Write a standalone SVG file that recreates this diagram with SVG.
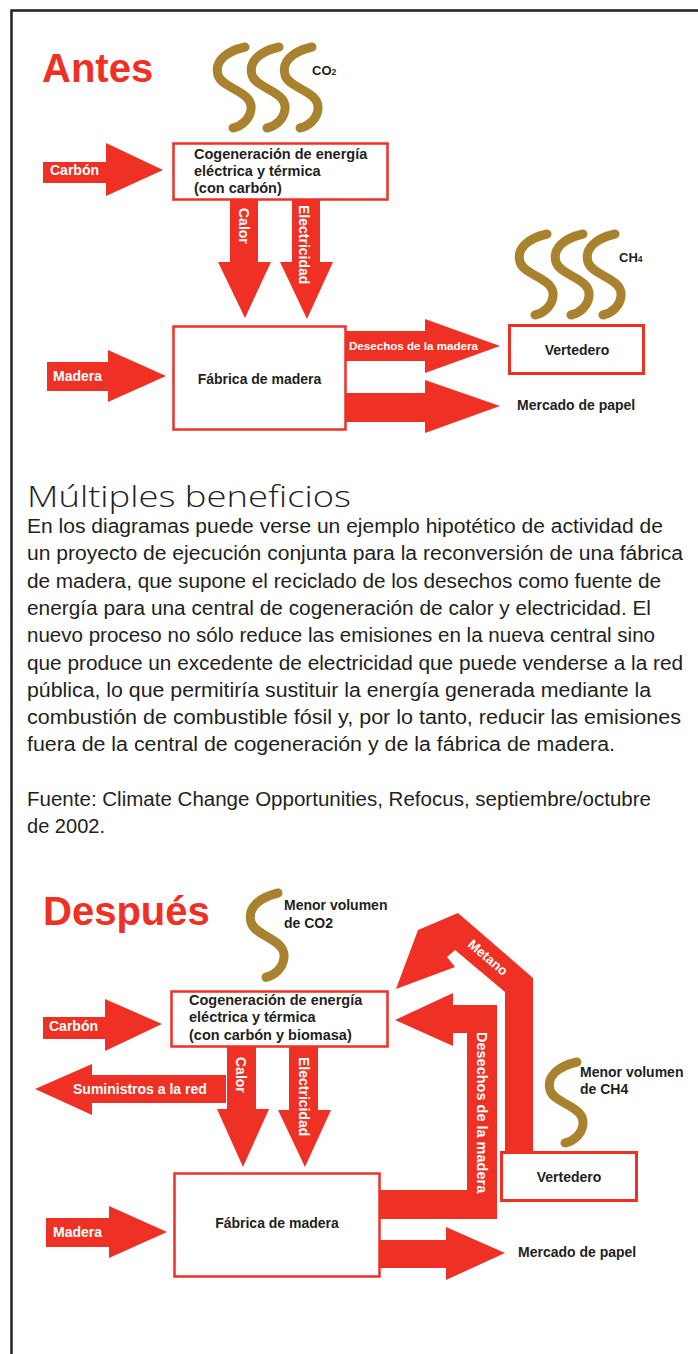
<svg xmlns="http://www.w3.org/2000/svg" width="698" height="1354" viewBox="0 0 698 1354">
<style>
.bg{fill:#fff}
.frame{fill:none;stroke:#231F20;stroke-width:2.5}
.box{fill:#fff;stroke:#EE3124;stroke-width:2.5}
.arr{fill:#EE3124}
.smoke{fill:none;stroke:#A8822F;stroke-width:9;stroke-linecap:round}
.t{font-family:"Liberation Sans",Arial,sans-serif;font-weight:bold;fill:#231F20;font-size:14px}
.w{font-family:"Liberation Sans",Arial,sans-serif;font-weight:bold;fill:#fff;font-size:14px}
.big{font-family:"Liberation Sans",Arial,sans-serif;font-weight:bold;fill:#EE3124;font-size:40px}
.h{font-family:"Open Sans",Lato,"Liberation Sans",sans-serif;font-weight:300;fill:#231F20;font-size:29px}
.body{font-family:"Liberation Sans",Arial,sans-serif;fill:#231F20;font-size:20px}
</style>
<defs>
<path id="smoke" d="M0,0 C-18,4 -31,14 -27,28 C-23,42 8,44 6,62 C5,72 -3,79 -12,81"/>
</defs>
<rect class="bg" x="0" y="0" width="698" height="1354"/>
<rect class="frame" x="11.5" y="10.5" width="700" height="1360"/>

<!-- ANTES -->
<text class="big" x="42" y="82">Antes</text>
<g id="smoke-co2-top">
<use href="#smoke" class="smoke" transform="translate(245,47)"/>
<use href="#smoke" class="smoke" transform="translate(279,47)"/>
<use href="#smoke" class="smoke" transform="translate(312,47)"/>
<text class="t" x="312" y="75" style="font-size:13px">CO<tspan style="font-size:8.5px">2</tspan></text>
</g>
<g id="smoke-ch4-top">
<use href="#smoke" class="smoke" transform="translate(547,234)"/>
<use href="#smoke" class="smoke" transform="translate(583,234)"/>
<use href="#smoke" class="smoke" transform="translate(615,234)"/>
<text class="t" x="619" y="262" style="font-size:13px">CH<tspan style="font-size:8.5px">4</tspan></text>
</g>

<g id="connectors-top">
<polygon class="arr" points="43,162 106,162 106,143 163,170 106,196 106,183 43,183"/>
<text class="w" x="50" y="175">Carbón</text>
<polygon class="arr" points="230,200 258,200 258,262 271,262 245,318 218,262 230,262"/>
<text class="w" transform="translate(239,208) rotate(90)">Calor</text>
<polygon class="arr" points="292,200 320,200 320,262 333,262 307,319 280,262 292,262"/>
<text class="w" transform="translate(299,205) rotate(90)">Electricidad</text>
<polygon class="arr" points="47,362 108,362 108,350 166,376 108,402 108,391 47,391"/>
<text class="w" x="53" y="381">Madera</text>
<polygon class="arr" points="346,331 425,331 425,319 500,346 425,373 425,361 346,361"/>
<text class="w" x="349" y="350" style="font-size:11.6px">Desechos de la madera</text>
<polygon class="arr" points="346,393 425,393 425,380 500,406 425,433 425,422 346,422"/>
</g>

<g id="cogen-top">
<rect class="box" x="173.5" y="143.5" width="214" height="56"/>
<text class="t" x="194" y="159" style="font-size:14.5px">Cogeneración de energía</text>
<text class="t" x="194" y="176" style="font-size:14.5px">eléctrica y térmica</text>
<text class="t" x="194" y="193" style="font-size:14.5px">(con carbón)</text>
</g>
<g id="fabrica-top">
<rect class="box" x="173.5" y="326.5" width="172" height="103"/>
<text class="t" x="259.5" y="384" text-anchor="middle">Fábrica de madera</text>
</g>
<g id="vertedero-top">
<rect class="box" x="509.5" y="325.5" width="134" height="48" style="stroke-width:3"/>
<text class="t" x="577" y="355" text-anchor="middle">Vertedero</text>
</g>
<g id="mercado-top">
<text class="t" x="517" y="410">Mercado de papel</text>
</g>

<!-- TEXT -->
<g id="texto">
<text class="h" x="27" y="507" textLength="324" lengthAdjust="spacingAndGlyphs">Múltiples beneficios</text>
<text class="body" x="27" y="533" textLength="636" lengthAdjust="spacingAndGlyphs">En los diagramas puede verse un ejemplo hipotético de actividad de</text>
<text class="body" x="27" y="560.3" textLength="656" lengthAdjust="spacingAndGlyphs">un proyecto de ejecución conjunta para la reconversión de una fábrica</text>
<text class="body" x="27" y="587.6" textLength="634" lengthAdjust="spacingAndGlyphs">de madera, que supone el reciclado de los desechos como fuente de</text>
<text class="body" x="27" y="614.9" textLength="624" lengthAdjust="spacingAndGlyphs">energía para una central de cogeneración de calor y electricidad. El</text>
<text class="body" x="27" y="642.2" textLength="628" lengthAdjust="spacingAndGlyphs">nuevo proceso no sólo reduce las emisiones en la nueva central sino</text>
<text class="body" x="27" y="669.5" textLength="656" lengthAdjust="spacingAndGlyphs">que produce un excedente de electricidad que puede venderse a la red</text>
<text class="body" x="27" y="696.8" textLength="624" lengthAdjust="spacingAndGlyphs">pública, lo que permitiría sustituir la energía generada mediante la</text>
<text class="body" x="27" y="724.1" textLength="654" lengthAdjust="spacingAndGlyphs">combustión de combustible fósil y, por lo tanto, reducir las emisiones</text>
<text class="body" x="27" y="751.4" textLength="588" lengthAdjust="spacingAndGlyphs">fuera de la central de cogeneración y de la fábrica de madera.</text>
<text class="body" x="27" y="806" textLength="624" lengthAdjust="spacingAndGlyphs">Fuente: Climate Change Opportunities, Refocus, septiembre/octubre</text>
<text class="body" x="27" y="833.3" textLength="78" lengthAdjust="spacingAndGlyphs">de 2002.</text>
</g>

<!-- DESPUES -->
<text class="big" x="43" y="925">Después</text>
<g id="smoke-co2-bottom">
<use href="#smoke" class="smoke" transform="translate(278,893) scale(1,1.04)"/>
<text class="t" x="284" y="910">Menor volumen</text>
<text class="t" x="284" y="928">de CO2</text>
</g>
<g id="smoke-ch4-bottom">
<use href="#smoke" class="smoke" transform="translate(577,1062)"/>
<text class="t" x="580" y="1077">Menor volumen</text>
<text class="t" x="580" y="1094">de CH4</text>
</g>

<g id="connectors-bottom">
<polygon class="arr" points="533,1152 533,978 458,913 418,930 396,989 455,967 447,957 455,950 505,992 505,1152"/>
<text class="w" transform="translate(485,961) rotate(40.6)" text-anchor="middle" style="font-size:13.5px">Metano</text>
<polygon class="arr" points="380,1190 467,1190 467,1033 453,1033 453,1046 395,1020 453,993 453,1005 497,1005 497,1219 380,1219"/>
<text class="w" transform="translate(477,1032) rotate(90)" style="font-size:14.5px">Desechos de la madera</text>
<polygon class="arr" points="43,1017 105,1017 105,999 162,1024 105,1051 105,1039 43,1039"/>
<text class="w" x="49" y="1031">Carbón</text>
<polygon class="arr" points="35,1089 92,1064 92,1075 226,1075 226,1103 92,1103 92,1115"/>
<text class="w" x="73" y="1094">Suministros a la red</text>
<polygon class="arr" points="227,1047 256,1047 256,1109 269,1109 243,1167 217,1109 227,1109"/>
<text class="w" transform="translate(236,1057) rotate(90)">Calor</text>
<polygon class="arr" points="289,1047 318,1047 318,1110 331,1110 305,1167 278,1110 289,1110"/>
<text class="w" transform="translate(298.5,1057) rotate(90)">Electricidad</text>
<polygon class="arr" points="46,1218 109,1218 109,1206 167,1232 109,1258 109,1247 46,1247"/>
<text class="w" x="53" y="1237">Madera</text>
<polygon class="arr" points="380,1240 446,1240 446,1227 505,1253 446,1280 446,1268 380,1268"/>
</g>

<g id="cogen-bottom">
<rect class="box" x="171.5" y="991.5" width="216" height="55"/>
<text class="t" x="189" y="1005" style="font-size:14.5px">Cogeneración de energía</text>
<text class="t" x="189" y="1022" style="font-size:14.5px">eléctrica y térmica</text>
<text class="t" x="189" y="1040" style="font-size:14.5px">(con carbón y biomasa)</text>
</g>
<g id="fabrica-bottom">
<rect class="box" x="174.5" y="1173.5" width="205" height="103"/>
<text class="t" x="277" y="1228" text-anchor="middle">Fábrica de madera</text>
</g>
<g id="vertedero-bottom">
<rect class="box" x="501.5" y="1152.5" width="135" height="48" style="stroke-width:3"/>
<text class="t" x="569" y="1182" text-anchor="middle">Vertedero</text>
</g>
<g id="mercado-bottom">
<text class="t" x="518" y="1257">Mercado de papel</text>
</g>
</svg>
